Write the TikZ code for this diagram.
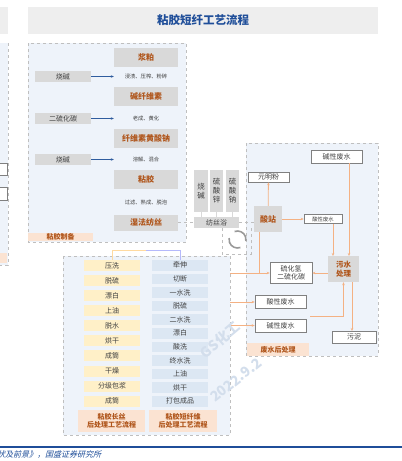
\documentclass[tikz,border=0pt]{standalone}
\usepackage{fontspec}
\setmainfont{Noto Sans CJK SC}
\newfontfamily\cjkslant[FakeSlant=0.25]{Noto Sans CJK SC}
\usetikzlibrary{arrows.meta}
\definecolor{titlec}{HTML}{1F4E99}
\definecolor{panelc}{HTML}{EEF3FA}
\definecolor{panelb}{HTML}{BFBFBF}
\definecolor{gboxc}{HTML}{D9D9D9}
\definecolor{brownc}{HTML}{B0561C}
\definecolor{peachc}{HTML}{FBE3D2}
\definecolor{orangec}{HTML}{F4B183}
\definecolor{barrowc}{HTML}{2F5C9E}
\definecolor{yellowc}{HTML}{FFF0C8}
\definecolor{lbluec}{HTML}{DCE7F3}
\definecolor{textc}{HTML}{404040}
\definecolor{wmc}{HTML}{D3DEEC}
\tikzset{
  panel/.style={fill=panelc, draw=panelb, dashed, line width=0.5pt},
  stepgray/.style={fill=gboxc, draw=none, inner sep=0pt, text=brownc, font=\bfseries\fontsize{8}{9.5}\selectfont},
  lblgray/.style={fill=gboxc, draw=none, inner sep=0pt, text=textc, minimum width=56pt, minimum height=11pt, font=\fontsize{7}{8}\selectfont},
  smalltxt/.style={inner sep=0pt, text=textc, minimum width=64pt, font=\fontsize{5.3}{6}\selectfont},
  whitebox/.style={fill=white, draw=gray, line width=0.6pt, inner sep=0pt, text=textc, font=\fontsize{7}{8.2}\selectfont},
  peachlbl/.style={fill=peachc, draw=none, inner sep=0pt, text=brownc, font=\bfseries\fontsize{7}{8.5}\selectfont},
  ybox/.style={fill=yellowc, draw=none, inner sep=0pt, minimum width=56pt, minimum height=11pt, text=textc, font=\fontsize{7}{8}\selectfont},
  bbox/.style={fill=lbluec, draw=none, inner sep=0pt, minimum width=56pt, minimum height=10.5pt, text=textc, font=\fontsize{7}{8}\selectfont},
  vbox/.style={fill=gboxc, draw=none, inner sep=0pt, minimum width=13.5pt, minimum height=42pt, text=textc, align=center, font=\fontsize{7.5}{9}\selectfont},
  barrow/.style={draw=barrowc, line width=0.6pt, -{Stealth[length=3pt,width=2.5pt]}},
  oarrow/.style={draw=orangec, line width=0.8pt, -{Stealth[length=3pt,width=2.5pt]}},
  oline/.style={draw=orangec, line width=0.8pt},
  gdash/.style={draw=panelb, dashed, line width=0.6pt},
}
\begin{document}
\begin{tikzpicture}[x=1pt,y=-1pt]
\useasboundingbox (0,0) rectangle (402,461);
\fill[white] (0,0) rectangle (402,461);
% title bars
\fill[gboxc!45] (0,7) rectangle (8,34);
\node[fill=gboxc!45, minimum width=350pt, minimum height=27pt, inner sep=0pt, text=titlec, font=\bfseries\fontsize{11.5}{12}\selectfont] (title) at (203,20.5) {粘胶短纤工艺流程};
% left partial panel
\fill[panelc] (0,43) rectangle (8,265);
\draw[gdash] (8,43) -- (8,265) -- (0,265);
\draw[gray, line width=0.6pt, fill=white] (-5,163) rectangle (7,175);
\draw[gray, line width=0.6pt, fill=white] (-5,187) rectangle (7,200);
\fill[peachc] (0,253) rectangle (7,263);
% panel 1
\draw[panel] (28,43) rectangle (186,242);
\node[stepgray, minimum width=64pt, minimum height=19pt] (jp) at (146,57.5) {浆粕};
\node[lblgray] (sj1) at (63,76.5) {烧碱};
\node[smalltxt] (t1) at (146,76.5) {浸渍、压榨、粉碎};
\node[stepgray, minimum width=64pt, minimum height=19pt] (jxw) at (146,96.5) {碱纤维素};
\node[lblgray] (ehth) at (63,118.5) {二硫化碳};
\node[smalltxt] (t2) at (146,118.5) {老成、黄化};
\node[stepgray, minimum width=64pt, minimum height=19pt] (xws) at (146,138.5) {纤维素黄酸钠};
\node[lblgray] (sj2) at (63,159.5) {烧碱};
\node[smalltxt] (t3) at (146,159.5) {溶解、混合};
\node[stepgray, minimum width=64pt, minimum height=19pt] (nj) at (146,179.5) {粘胶};
\node[smalltxt] (t4) at (146,202) {过滤、熟成、脱泡};
\node[stepgray, minimum width=64pt, minimum height=16pt] (sffs) at (146,222.5) {湿法纺丝};
\node[peachlbl, minimum width=65pt, minimum height=8.5pt] (njzb) at (60.5,237) {粘胶制备};
\draw[barrow] (sj1) -- (t1);
\draw[barrow] (ehth) -- (t2);
\draw[barrow] (sj2) -- (t3);
% spinning bath
\node[vbox] (v1) at (201,191) {烧\\碱};
\node[vbox] (v2) at (216.5,191) {硫\\酸\\锌};
\node[vbox] (v3) at (232.5,191) {硫\\酸\\钠};
\node[fill=gboxc, inner sep=0pt, minimum width=45pt, minimum height=11pt, text=textc, font=\fontsize{7}{8}\selectfont] (fsy) at (216.5,222.5) {纺丝浴};
\draw[gboxc, line width=0.8pt] (v1) -- (v1 |- fsy.north);
\draw[gboxc, line width=0.8pt] (v2) -- (v2 |- fsy.north);
\draw[gboxc, line width=0.8pt] (v3) -- (v3 |- fsy.north);
\draw[gdash] (sffs.east) -- (fsy.west);
% panel 3
\draw[panel] (246,143) rectangle (378,356);
% circle box
\draw[gdash] (222,228) -- (222,254) -- (251,254) -- (251,228);
\coordinate (cc) at (237.5,239.5);
\draw[gray!80, line width=1.6pt] (cc) ++(70:8.5) arc[start angle=70, end angle=190, radius=8.5];
\draw[gray!80, line width=1.6pt] (cc) ++(250:8.5) arc[start angle=250, end angle=370, radius=8.5];
\node[whitebox, minimum width=51pt, minimum height=13pt] (jxs1) at (336.5,156.5) {碱性废水};
\node[whitebox, minimum width=41pt, minimum height=10pt] (ymf) at (268.5,177) {元明粉};
\node[stepgray, minimum width=28pt, minimum height=26pt] (sz) at (268,219) {酸站};
\node[whitebox, minimum width=38pt, minimum height=9pt, font=\fontsize{5.3}{6}\selectfont] (sxs1) at (323,219) {酸性废水};
\node[stepgray, minimum width=31pt, minimum height=26pt, align=center, font=\bfseries\fontsize{7.5}{9}\selectfont] (ws) at (343.5,269) {污水\\处理};
\node[whitebox, minimum width=42pt, minimum height=21pt, align=center] (lhq) at (291,273) {硫化氢\\二硫化碳};
\node[whitebox, minimum width=51pt, minimum height=13pt] (sxs2) at (280.5,302) {酸性废水};
\node[whitebox, minimum width=51pt, minimum height=13pt] (jxs2) at (280.5,325.5) {碱性废水};
\node[whitebox, minimum width=44pt, minimum height=12pt] (wn) at (354,337) {污泥};
\node[peachlbl, minimum width=62pt, minimum height=13pt] (fscl) at (278,349.5) {废水后处理};
\draw[gdash] (fsy.east) -- (fsy.east -| sz.west);
\coordinate (wsin1) at (333,256);
\coordinate (wsin2) at (349,256);
\coordinate (jn) at (259,273);
\coordinate (e1) at (230,273);
\coordinate (e2) at (230,302);
\coordinate (e3) at (230,325.5);
\coordinate (mg) at (310,316);
\coordinate (wnin) at (352,331);
\draw[oarrow] (sz) -- (ymf);
\draw[oarrow] (sz) -- (sxs1);
\draw[oarrow] (sxs1.south -| wsin1) -- (wsin1);
\draw[oarrow] (jxs1.south -| wsin2) -- (wsin2);
\draw[oarrow] (ws.west |- lhq.east) -- (lhq.east);
\draw[oline] (sz.south -| jn) -- (jn);
\draw[oarrow] (e1) -- (lhq.west);
\draw[oarrow] (e2) -- (sxs2.west);
\draw[oarrow] (e3) -- (jxs2.west);
\draw[oarrow] (mg) -| (ws.south);
\draw[oarrow] (ws.south -| wnin) -- (wnin);
% panel 2
\draw[panel] (63,256) rectangle (230,435);
\foreach \t [count=\i from 0] in {压洗,脱硫,漂白,上油,脱水,烘干,成筒,干燥,分级包浆,成筒}{
  \node[ybox] (y\i) at (112,265.5+15.08*\i) {\t};
}
\foreach \t [count=\i from 0] in {牵伸,切断,一水洗,脱硫,二水洗,漂白,酸洗,终水洗,上油,烘干,打包成品}{
  \node[bbox] (b\i) at (180,265.3+13.6*\i) {\t};
}
\node[peachlbl, minimum width=67pt, minimum height=22pt, align=center] (cs) at (111.5,421) {粘胶长丝\\后处理工艺流程};
\node[peachlbl, minimum width=68pt, minimum height=22pt, align=center] (dx) at (183,421) {粘胶短纤维\\后处理工艺流程};
\coordinate (split) at (146,250.5);
\draw[yellowc!80!orange, line width=0.8pt] (split) -| (y0.north);
\draw[lbluec!60!blue!60, line width=0.8pt] (split) -| (b0.north);
% watermark
\node[text=wmc, rotate=40, inner sep=0pt, font=\bfseries\fontsize{14}{14}\selectfont] (wm1) at (220,340) {GS化工};
\node[text=wmc, rotate=38, inner sep=0pt, font=\bfseries\fontsize{14}{14}\selectfont] (wm2) at (236,380) {2022.9.2};
% footer
\draw[titlec, line width=1.5pt] (0,447) -- (402,447);
\node[anchor=west, inner sep=0pt, text=titlec, font=\cjkslant\fontsize{8}{9}\selectfont] (src) at (-3,455) {状及前景》，国盛证券研究所};
\end{tikzpicture}
\end{document}
